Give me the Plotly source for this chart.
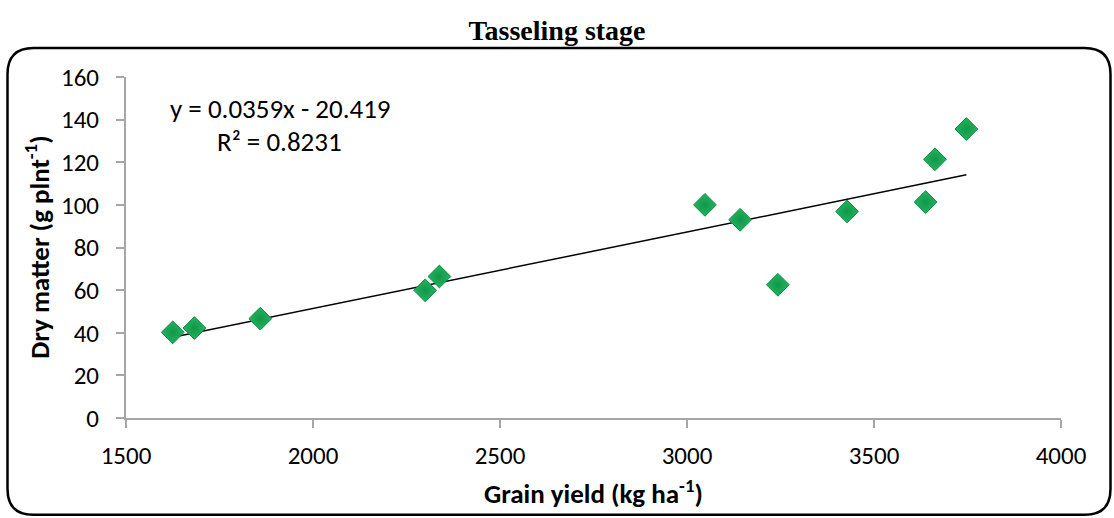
import plotly.graph_objects as go

# Data
grain_yield = [1625, 1683, 1859, 2300, 2338, 3048, 3142, 3243, 3428, 3638, 3663, 3747]
dry_matter = [40.2, 42.2, 46.6, 59.9, 66.4, 100.0, 93.0, 62.5, 96.9, 101.3, 121.4, 135.6]
slope = 0.0359
intercept = -20.419
r_squared = 0.8231
x_ticks = [1500, 2000, 2500, 3000, 3500, 4000]
y_ticks = [0, 20, 40, 60, 80, 100, 120, 140, 160]

W, H = 1114, 518
L, R, T, B = 126, 53, 77, 99.5
pw, ph = W - L - R, H - T - B

def px(xp):
    return (xp - L) / pw

def py(yp):
    return (H - B - yp) / ph

SANS = "Calibri, Carlito, Lato, sans-serif"
FS = 25
FA = 27

fig = go.Figure()

xmin, xmax = min(grain_yield), max(grain_yield)
fig.add_trace(go.Scatter(
    x=[xmin, xmax], y=[slope * xmin + intercept, slope * xmax + intercept],
    mode="lines", line=dict(color="black", width=1.5), hoverinfo="skip", showlegend=False))

fig.add_trace(go.Scatter(
    x=grain_yield, y=dry_matter, mode="markers",
    marker=dict(symbol="diamond", size=17.5, color="#22b55e",
                line=dict(color="#0e8a43", width=1),
                gradient=dict(type="radial", color="#12964a")),
    showlegend=False))

# Rounded border in pixel space converted to paper coords
x0, x1, y0, y1, r = 7.5, 1110.5, 48, 515.5, 26
def P(a, b):
    return f"{px(a):.5f},{py(b):.5f}"
path = (f"M {P(x0 + r, y0)} L {P(x1 - r, y0)} Q {P(x1, y0)} {P(x1, y0 + r)} "
        f"L {P(x1, y1 - r)} Q {P(x1, y1)} {P(x1 - r, y1)} "
        f"L {P(x0 + r, y1)} Q {P(x0, y1)} {P(x0, y1 - r)} "
        f"L {P(x0, y0 + r)} Q {P(x0, y0)} {P(x0 + r, y0)} Z")
fig.add_shape(type="path", path=path, xref="paper", yref="paper",
              line=dict(color="black", width=2.5), layer="below")

axis_common = dict(showgrid=False, zeroline=False, showline=True, linecolor="#a6a6a6",
                   linewidth=2, ticks="outside", tickcolor="#a6a6a6", ticklen=8, tickwidth=1.5,
                   tickfont=dict(family=SANS, size=FS, color="black"))

fig.update_xaxes(range=[1500, 4000], tickvals=x_ticks, ticklabelstandoff=6, **axis_common)
fig.update_yaxes(range=[0, 160], tickvals=y_ticks, ticklabelstandoff=12, **axis_common)

ann_font = dict(family=SANS, size=FA, color="black")
fig.add_annotation(x=0.4995, y=py(493), xref="paper", yref="paper", showarrow=False,
                   xanchor="center", yanchor="middle",
                   text="<b>Grain yield (kg ha<sup>-1</sup>)</b>", font=ann_font)
fig.add_annotation(x=px(37), y=0.4993, xref="paper", yref="paper", showarrow=False,
                   xanchor="center", yanchor="middle",
                   textangle=-90, text="<b>Dry matter (g plnt<sup>-1</sup>)</b>", font=ann_font)
fig.add_annotation(x=px(280), y=py(109), xref="paper", yref="paper", showarrow=False,
                   xanchor="center", yanchor="middle",
                   text=f"y = {slope}x - {abs(intercept)}", font=ann_font)
fig.add_annotation(x=px(279), y=py(142), xref="paper", yref="paper", showarrow=False,
                   xanchor="center", yanchor="middle",
                   text=f"R² = {r_squared}", font=ann_font)

fig.update_layout(
    width=W, height=H,
    margin=dict(l=L, r=R, t=T, b=B),
    paper_bgcolor="white", plot_bgcolor="white",
    title=dict(text="<b>Tasseling stage</b>", x=0.5, xanchor="center",
               y=1 - 30 / H, yanchor="middle",
               font=dict(family="Times New Roman, Liberation Serif, serif", size=28, color="black")),
)

fig.write_html("out.html")
